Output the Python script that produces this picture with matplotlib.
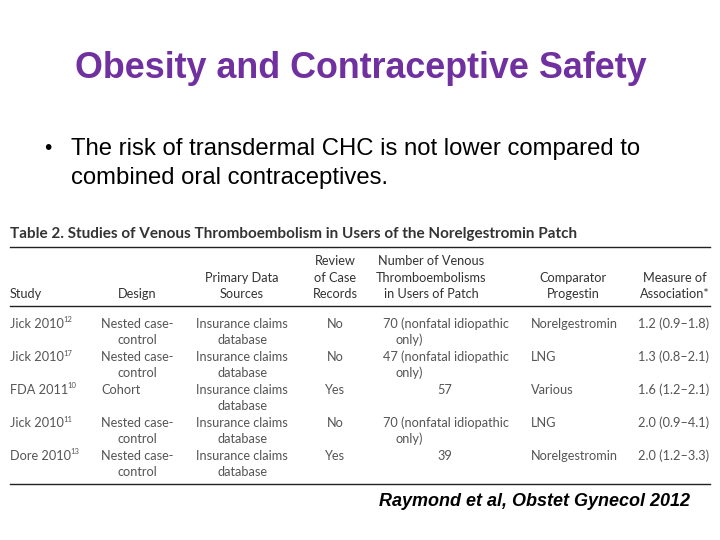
import matplotlib
matplotlib.use("Agg")
import matplotlib.pyplot as plt
from matplotlib.lines import Line2D

# table content
studies = ["Jick 2010", "Jick 2010", "FDA 2011", "Jick 2010", "Dore 2010"]
refs = ["12", "17", "10", "11", "13"]
designs = [["Nested case-", "control"], ["Nested case-", "control"], ["Cohort"],
           ["Nested case-", "control"], ["Nested case-", "control"]]
sources = [["Insurance claims", "database"]] * 5
review = ["No", "No", "Yes", "No", "Yes"]
n_vte = [["70 (nonfatal idiopathic", "only)"], ["47 (nonfatal idiopathic", "only)"], ["57"],
         ["70 (nonfatal idiopathic", "only)"], ["39"]]
comparator = ["Norelgestromin", "LNG", "Various", "LNG", "Norelgestromin"]
measure = ["1.2 (0.9\u20131.8)", "1.3 (0.8\u20132.1)", "1.6 (1.2\u20132.1)",
           "2.0 (0.9\u20134.1)", "2.0 (1.2\u20133.3)"]

headers = [["Study"], ["Design"], ["Primary Data", "Sources"], ["Review", "of Case", "Records"],
           ["Number of Venous", "Thromboembolisms", "in Users of Patch"],
           ["Comparator", "Progestin"], ["Measure of", "Association*"]]

W, H = 720, 540
fig = plt.figure(figsize=(7.2, 5.4), dpi=100)
fig.patch.set_facecolor("white")

def px(x, y):
    return x / W, 1 - y / H

def txt(x, y, s, **kw):
    return fig.text(*px(x, y), s, **kw)

def hline(y, x0, x1, lw=1.0):
    fig.add_artist(Line2D([x0 / W, x1 / W], [1 - y / H, 1 - y / H], color="#222222", lw=lw))

purple = "#7030A0"
txt(361, 68, "Obesity and Contraceptive Safety", ha="center", va="center",
    fontsize=25.8, fontweight="bold", color=purple, family="Liberation Sans")
txt(48, 149, "\u2022", ha="center", va="center", fontsize=15, family="Liberation Sans")
txt(71, 149, "The risk of transdermal CHC is not lower compared to", ha="left", va="center",
    fontsize=17.2, family="Liberation Sans")
txt(71, 178, "combined oral contraceptives.", ha="left", va="center",
    fontsize=17.2, family="Liberation Sans")

tc = "#333333"
gc = "#555555"
tf = "Lato"
txt(10, 234, "Table 2. Studies of Venous Thromboembolism in Users of the Norelgestromin Patch",
    ha="left", va="center", fontsize=11, color=tc, family=tf, fontweight="bold")
hline(247, 10, 710, 1.0)
hline(306, 10, 710, 1.0)
hline(484, 10, 710, 1.0)

hx = [10, 137, 242, 335, 431, 573, 675]
hal = ["left", "center", "center", "center", "center", "center", "center"]
for x, a, lines in zip(hx, hal, headers):
    n = len(lines)
    for i, s in enumerate(lines):
        y = 294 - (n - 1 - i) * 16.5
        txt(x, y, s, ha=a, va="center", fontsize=9.2, color=tc, family=tf)

fs = 9.2
row0, dy, ldy = 324, 33, 16
fig.canvas.draw()
for r in range(len(studies)):
    y = row0 + r * dy
    t = txt(10, y, studies[r], ha="left", va="center", fontsize=fs, color=gc, family=tf)
    bb = t.get_window_extent(renderer=fig.canvas.get_renderer())
    fig.text(bb.x1 / W - 1 / W, 1 - (y - 4) / H, refs[r], ha="left", va="center",
             fontsize=5.5, color=gc, family=tf)
    dl = designs[r]
    if len(dl) == 1:
        txt(101, y, dl[0], ha="left", va="center", fontsize=fs, color=gc, family=tf)
    else:
        for i, s in enumerate(dl):
            txt(137, y + i * ldy, s, ha="center", va="center", fontsize=fs, color=gc, family=tf)
    for i, s in enumerate(sources[r]):
        txt(242, y + i * ldy, s, ha="center", va="center", fontsize=fs, color=gc, family=tf)
    txt(335, y, review[r], ha="center", va="center", fontsize=fs, color=gc, family=tf)
    nl = n_vte[r]
    if len(nl) == 1:
        txt(445, y, nl[0], ha="center", va="center", fontsize=fs, color=gc, family=tf)
    else:
        txt(383, y, nl[0], ha="left", va="center", fontsize=fs, color=gc, family=tf)
        txt(395, y + ldy, nl[1], ha="left", va="center", fontsize=fs, color=gc, family=tf)
    txt(531, y, comparator[r], ha="left", va="center", fontsize=fs, color=gc, family=tf)
    txt(709, y, measure[r], ha="right", va="center", fontsize=fs, color=gc, family=tf)

txt(690, 502, "Raymond et al, Obstet Gynecol 2012", ha="right", va="center",
    fontsize=13, fontweight="bold", fontstyle="italic", family="Liberation Sans")

fig.savefig("out.png", dpi=100, facecolor="white")
